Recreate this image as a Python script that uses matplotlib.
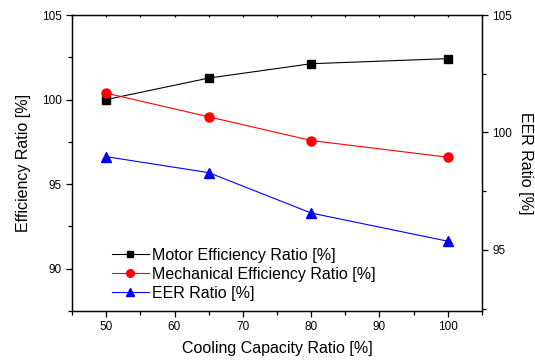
import numpy as np
import matplotlib.pyplot as plt
from matplotlib.ticker import MultipleLocator

plt.rcParams['font.family'] = ['Liberation Sans', 'DejaVu Sans']

# Dados
capacity = [50, 65, 80, 100]
motor_eff = [100.0, 101.27, 102.12, 102.42]
mech_eff = [100.38, 98.98, 97.58, 96.59]
eer = [98.97, 98.29, 96.57, 95.37]

fig = plt.figure(figsize=(5.35, 3.62), dpi=100)
ax = fig.add_axes([72 / 535, 1 - 311 / 362, 410 / 535, 296 / 362])
ax2 = ax.twinx()

l1, = ax.plot(capacity, motor_eff, color='black', marker='s', ms=5.5, lw=0.8,
              label='Motor Efficiency Ratio [%]')
l2, = ax.plot(capacity, mech_eff, color='red', marker='o', ms=6.5, lw=0.8,
              label='Mechanical Efficiency Ratio [%]')
l3, = ax2.plot(capacity, eer, color='blue', marker='^', ms=6.5, lw=0.8,
               label='EER Ratio [%]')

ax.set_xlim(45, 105)
ax.set_ylim(87.5, 105)
ax2.set_ylim(92.4, 105)

ax.xaxis.set_major_locator(MultipleLocator(10))
ax.xaxis.set_minor_locator(MultipleLocator(5))
ax.yaxis.set_major_locator(MultipleLocator(5))
ax.yaxis.set_minor_locator(MultipleLocator(2.5))
ax2.yaxis.set_major_locator(MultipleLocator(5))
ax2.yaxis.set_minor_locator(MultipleLocator(2.5))

for a in (ax, ax2):
    for s in a.spines.values():
        s.set_linewidth(0.9)
ax.tick_params(axis='both', which='major', direction='out', length=4.3,
               width=0.9, labelsize=8.5, pad=3)
ax.tick_params(axis='both', which='minor', direction='out', length=2.6, width=0.9)
ax.tick_params(axis='x', which='both', top=True, labeltop=False)
ax2.tick_params(axis='y', which='major', direction='out', length=4.3,
                width=0.9, labelsize=8.5, pad=3)
ax2.tick_params(axis='y', which='minor', direction='out', length=2.6, width=0.9)
# pequenos ticks no eixo de cima, para dentro
for t in ax.xaxis.get_major_ticks() + ax.xaxis.get_minor_ticks():
    t.tick2line.set_markersize(1.2)
    t.tick2line.set_marker(3)

ax.set_xlabel('Cooling Capacity Ratio [%]', fontsize=11.5, labelpad=6)
ax.set_ylabel('Efficiency Ratio [%]', fontsize=11.5, labelpad=8)
ax2.set_ylabel('EER Ratio [%]', fontsize=11.5, rotation=270, labelpad=15)

ax.legend(handles=[l1, l2, l3], loc='upper left', bbox_to_anchor=(0.097, 0.213),
          frameon=False, fontsize=11.5, borderpad=0, borderaxespad=0,
          handlelength=2.3, handletextpad=0.25, labelspacing=0.25,
          markerscale=0.85)

fig.savefig('out.png', dpi=100)
